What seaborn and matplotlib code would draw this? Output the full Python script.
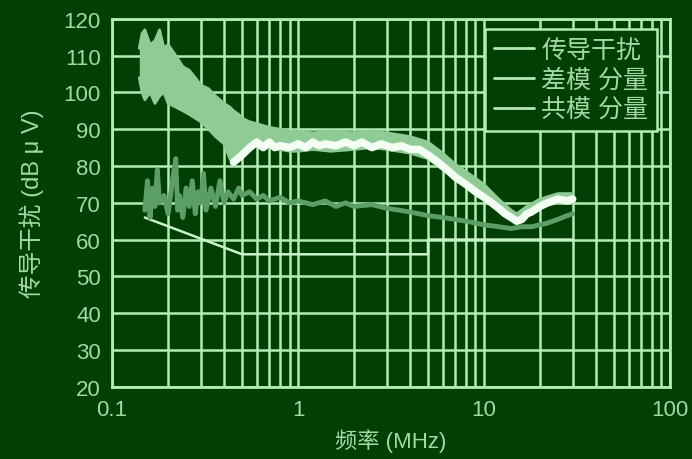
import numpy as np
import pandas as pd
import matplotlib
matplotlib.use("Agg")
import matplotlib.pyplot as plt
from matplotlib.lines import Line2D
import seaborn as sns

# ---------------- data ----------------
legend_labels = ["传导干扰", "差模 分量", "共模 分量"]
x_ticks = [0.1, 1, 10, 100]
x_tick_labels = ["0.1", "1", "10", "100"]
y_ticks = [20, 30, 40, 50, 60, 70, 80, 90, 100, 110, 120]

# pale noisy band (upper / lower envelope)
band_f = [0.14, 0.145, 0.15, 0.16, 0.17, 0.18, 0.19, 0.2, 0.22, 0.24, 0.26, 0.28, 0.3,
          0.33, 0.36, 0.4, 0.43, 0.45, 0.48, 0.5, 0.55, 0.6, 0.7, 0.8, 0.9, 1.0, 1.2,
          1.5, 2, 2.5, 3, 4, 5, 6, 7, 8, 10, 12, 14, 15, 17, 20, 25, 30]
band_hi = [112, 116, 117, 113, 114, 117, 112, 113, 110, 107, 106, 104, 102,
           101, 99, 97, 96, 95, 94, 93, 92, 91.5, 90.5, 90, 89.5, 89.5, 89,
           89.5, 89, 89.5, 89, 88, 86.5, 83.5, 80.5, 78.5, 75, 71, 68, 67, 69, 71, 72.5, 72.5]
band_lo = [104, 100, 98, 100, 97, 99, 100, 97, 96, 95, 94, 93, 92,
           90, 88, 86, 82, 80, 83, 85, 86, 85.5, 85, 84.5, 84, 84, 84.5,
           84, 84.5, 85, 84.5, 83.5, 82, 79, 76.5, 74.5, 71, 68, 65.5, 65, 66.5, 69, 70, 70]

# white curve (total)
tot_f = [0.45, 0.5, 0.55, 0.6, 0.65, 0.7, 0.75, 0.8, 0.9, 1.0, 1.1, 1.2, 1.3, 1.4, 1.6,
         1.8, 2.0, 2.2, 2.5, 2.8, 3.2, 3.6, 4.0, 4.5, 5.0, 5.5, 6.0, 6.5, 7.0, 8.0, 9.0,
         10, 11, 12, 13, 14, 15, 16, 17, 18, 20, 22, 25, 28, 30]
tot_v = [81, 83, 85, 86.5, 85, 86.5, 85, 85.5, 85, 86, 85, 86.5, 85.5, 86, 85.5,
         86.5, 85.5, 86.5, 85, 86, 85, 85.5, 84.5, 84.5, 83, 81.5, 80, 78.5, 77, 75, 73,
         71.5, 70, 68.5, 67, 66, 65, 65.5, 67, 67.5, 69, 70, 71, 70.5, 71]

# medium green noisy curve
dm_f = [0.15, 0.155, 0.16, 0.165, 0.17, 0.175, 0.18, 0.19, 0.2, 0.21, 0.22, 0.225, 0.23,
        0.24, 0.25, 0.26, 0.27, 0.28, 0.29, 0.3, 0.31, 0.32, 0.34, 0.36, 0.38, 0.4, 0.42,
        0.45, 0.48, 0.5, 0.55, 0.6, 0.65, 0.7, 0.8, 0.9, 1.0, 1.2, 1.4, 1.6, 1.8, 2.0,
        2.5, 3.0, 3.5, 4, 5, 6, 7, 8, 9, 10, 12, 14, 16, 18, 20, 22, 25, 28, 30]
dm_v = [68, 76, 66, 74, 69, 79, 70, 72, 67, 75, 82, 68, 72,
        66, 74, 69, 76, 67, 73, 70, 78, 68, 74, 69, 76, 70, 73,
        71, 74, 72, 73, 71, 72, 70.5, 71.5, 70, 70.5, 69.5, 70.5, 69, 70, 69,
        69.5, 68.5, 68, 67.5, 66.5, 66, 65.5, 65, 64.5, 64, 63.5, 63, 63.5, 63.5, 64, 64.5,
        65.5, 66.5, 67]

# limit line
lim_f = [0.15, 0.5, 5, 5, 30]
lim_v = [66, 56, 56, 60, 60]

# ---------------- style ----------------
BG = "#013f05"
GRID = "#b4ecb4"
TXT = "#a3d8a3"

sns.set_theme(style="dark", rc={"axes.facecolor": BG, "figure.facecolor": BG})
plt.rcParams["font.family"] = ["Liberation Sans", "Noto Sans CJK SC", "DejaVu Sans"]

fig = plt.figure(figsize=(6.92, 4.60), dpi=100)
ax = fig.add_axes([0.162, 0.157, 0.806, 0.8])

# band
ax.fill_between(band_f, band_lo, band_hi, color="#8fcb94", lw=0, zorder=3)
sns.lineplot(x=band_f, y=band_hi, ax=ax, color="#8fcb94", lw=2, zorder=3,
             estimator=None, sort=False)
sns.lineplot(x=band_f, y=band_lo, ax=ax, color="#8fcb94", lw=2, zorder=3,
             estimator=None, sort=False)
# medium curve
sns.lineplot(x=dm_f, y=dm_v, ax=ax, color="#5c9f66", lw=3.5, zorder=4,
             estimator=None, sort=False)
# white curve
sns.lineplot(x=tot_f, y=tot_v, ax=ax, color="#f2fff2", lw=5.5, zorder=5,
             estimator=None, sort=False)
# limit
sns.lineplot(x=lim_f, y=lim_v, ax=ax, color="#c8f3c8", lw=1.8, zorder=2,
             estimator=None, sort=False)

ax.set_xscale("log")
ax.set_xlim(0.1, 100)
ax.set_ylim(20, 120)
ax.set_xticks(x_ticks)
ax.set_xticklabels(x_tick_labels)
ax.set_yticks(y_ticks)
ax.grid(True, which="both", axis="x", color=GRID, lw=1.8, zorder=1)
ax.grid(True, which="major", axis="y", color=GRID, lw=1.8, zorder=1)
ax.set_axisbelow(True)
for s in ax.spines.values():
    s.set_color(GRID)
    s.set_linewidth(2)
ax.tick_params(axis="both", which="both", length=0, colors=TXT, labelsize=16)
ax.tick_params(axis="y", pad=8)
ax.tick_params(axis="x", pad=9)

ax.set_xlabel("频率 (MHz)", color=TXT, fontsize=16, labelpad=6)
ax.set_ylabel("传导干扰 (dB μ V)", color=TXT, fontsize=17, labelpad=14)

handles = [Line2D([0], [0], color="#b8e8b8", lw=2) for _ in legend_labels]
leg = ax.legend(handles, legend_labels, loc="upper right", bbox_to_anchor=(0.977, 0.973),
                fontsize=18, frameon=True, fancybox=False, facecolor=BG, edgecolor=GRID,
                framealpha=1, handlelength=1.6, handletextpad=0.3, borderpad=0.35,
                labelspacing=0.25, borderaxespad=0)
leg.get_frame().set_linewidth(1.8)
for t in leg.get_texts():
    t.set_color(TXT)
leg.set_zorder(10)

fig.savefig("out.png", dpi=100, facecolor=BG)
